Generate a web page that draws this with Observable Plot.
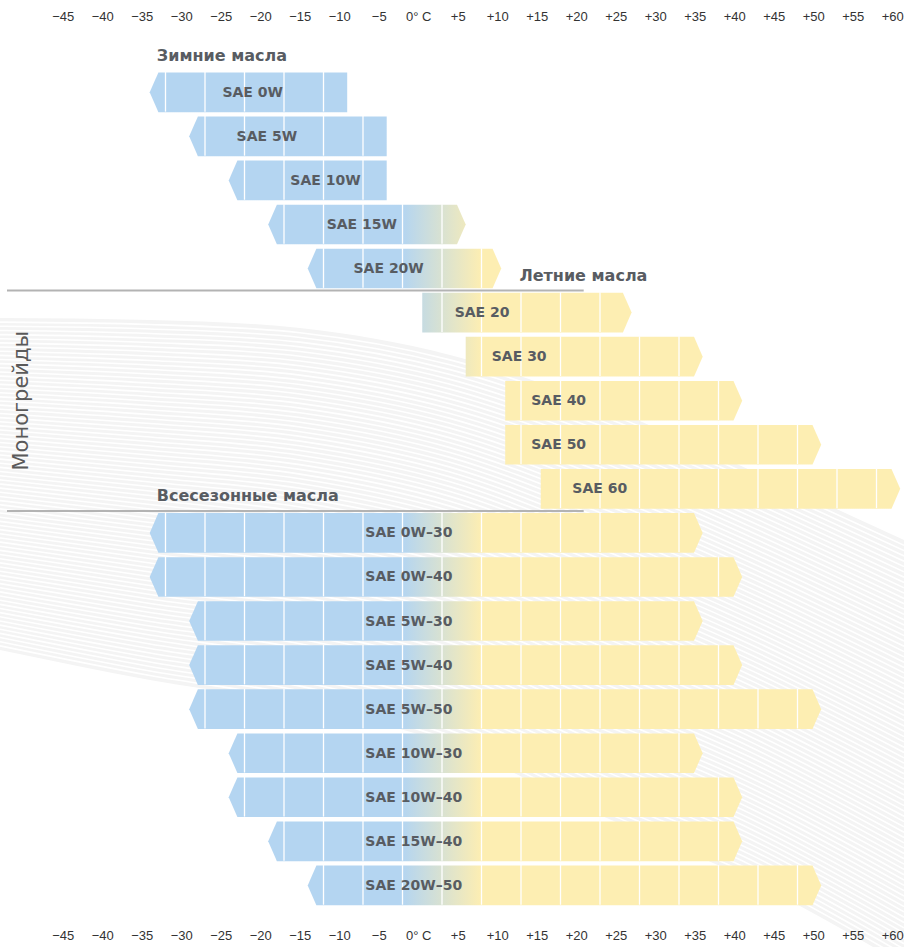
<!DOCTYPE html>
<html><head><meta charset="utf-8">
<script src="https://cdn.jsdelivr.net/npm/d3@7"></script>
<script src="https://cdn.jsdelivr.net/npm/@observablehq/plot@0.6"></script>
<style>html,body{margin:0;padding:0;background:#fff;} #chart svg{display:block}</style>
</head><body><div id="chart"></div>
<script>
// ---------- data ----------
const grades = ["SAE 0W","SAE 5W","SAE 10W","SAE 15W","SAE 20W",
  "SAE 20","SAE 30","SAE 40","SAE 50","SAE 60",
  "SAE 0W–30","SAE 0W–40","SAE 5W–30","SAE 5W–40","SAE 5W–50","SAE 10W–30","SAE 10W–40","SAE 15W–40","SAE 20W–50"];
const groups = ["winter","winter","winter","winter","winter",
  "summer","summer","summer","summer","summer",
  "all","all","all","all","all","all","all","all","all"];
const minTemp = [-35,-30,-25,-20,-15, -0.5,5,10,10,14.5, -35,-35,-30,-30,-30,-25,-25,-20,-15];
const maxTemp = [-10,-5,-5,5,9.5, 26,35,40,50,60, 35,40,35,40,50,35,40,40,50];
const openLow  = [true,true,true,true,true, false,false,false,false,false, true,true,true,true,true,true,true,true,true];
const openHigh = [false,false,false,true,true, true,true,true,true,true, true,true,true,true,true,true,true,true,true];
const tickValues = [-45,-40,-35,-30,-25,-20,-15,-10,-5,0,5,10,15,20,25,30,35,40,45,50,55,60];
const tickLabels = ["−45","−40","−35","−30","−25","−20","−15","−10","−5","0° C","+5","+10","+15","+20","+25","+30","+35","+40","+45","+50","+55","+60"];
const cellEdges = [-33,-28,-23,-18,-13,-8,-3,2,7,12,17,22,27,32,37,42,47,52,57];
const sectionTitles = ["Зимние масла","Летние масла","Всесезонные масла"];
const sideTitle = "Моногрейды";

// ---------- layout ----------
const labelX = [-25.8,-24,-17.2,-12.6,-9.2, 3.6,8.3,13.3,13.3,18.5, -7.7,-7.7,-7.7,-7.7,-7.7,-7.7,-7.7,-7.7,-7.7];
const sectionX = [-34.1, 11.8, -34.1];
const ARROW = 1.1, HALF = 0.45;
const BLUE = "#b4d5f1", YELLOW = "#fdeeb2", INK = "#585c62";
// decorative background swoosh (pixel space)
const swX   = [0, 150, 300, 450, 600, 750, 904];
const swTop = [318, 320, 328, 355, 405, 470, 540];
const swBot = [650, 680, 705, 745, 815, 880, 965];

const bars = grades.map((name, i) => ({name, row: i, group: groups[i], lo: minTemp[i], hi: maxTemp[i],
  openLow: openLow[i], openHigh: openHigh[i], labelX: labelX[i]}));

const outline = bars.flatMap(b => {
  const l = b.openLow ? b.lo + ARROW : b.lo;
  const r = b.openHigh ? b.hi - ARROW : b.hi;
  const p = [[l, b.row - HALF], [r, b.row - HALF]];
  if (b.openHigh) p.push([b.hi, b.row]);
  p.push([r, b.row + HALF], [l, b.row + HALF]);
  if (b.openLow) p.push([b.lo, b.row]);
  p.push([l, b.row - HALF]);
  return p.map(([x, y]) => ({id: b.name, x, y}));
});

const cellLines = bars.flatMap(b => {
  const l = b.openLow ? b.lo + ARROW : b.lo;
  const r = b.openHigh ? b.hi - ARROW : b.hi;
  return cellEdges.filter(e => e > l + 0.3 && e < r - 0.3)
    .map(e => ({x: e, y1: b.row - HALF, y2: b.row + HALF}));
});

const groupNames = [...new Set(groups)];
const firstRow = groupNames.map(g => groups.indexOf(g));
const sections = groupNames.map((g, k) => ({title: sectionTitles[k], x: sectionX[k], y: firstRow[k] - 0.5 - 0.33}));
const separators = firstRow.slice(1).map(r => ({y: r - 0.5, x1: -53, x2: 20}));
const summerRows = bars.filter(b => b.group === "summer").map(b => b.row);
const side = [{text: sideTitle, x: -51.3, y: d3.mean(summerRows)}];
const tickText = new Map(tickValues.map((v, i) => [v, tickLabels[i]]));

const chart = Plot.plot({
  width: 904, height: 947,
  marginLeft: 70.2, marginRight: 4.3, marginTop: 91.8, marginBottom: 62.1,
  x: {domain: [-45, 60]},
  y: {domain: [0, grades.length - 1], reverse: true, axis: null},
  style: {fontFamily: "'Liberation Sans', Arial, sans-serif", fontSize: "13px", color: "#333", background: "white", overflow: "visible"},
  marks: [
    Plot.line(outline, {x: "x", y: "y", z: "id", fill: "url(#sae-grad)", stroke: "none", curve: "linear"}),
    Plot.ruleX(cellLines, {x: "x", y1: "y1", y2: "y2", stroke: "white", strokeWidth: 1.3}),
    Plot.ruleY(separators, {y: "y", x1: "x1", x2: "x2", stroke: "#b3b3b3", strokeWidth: 2}),
    Plot.text(bars, {x: "labelX", y: "row", text: "name", textAnchor: "start", fontFamily: "DejaVu Sans", fontWeight: "bold", fontSize: 14, fill: INK}),
    Plot.text(sections, {x: "x", y: "y", text: "title", textAnchor: "start", fontFamily: "DejaVu Sans", fontWeight: "bold", fontSize: 16, fill: INK}),
    Plot.text(side, {x: "x", y: "y", text: "text", rotate: -90, fontFamily: "DejaVu Sans", fontSize: 21, fill: "#5a5a5a"}),
    Plot.axisX({anchor: "top", ticks: tickValues, tickSize: 0, tickPadding: 71.8, tickFormat: d => tickText.get(d), dx: -7.5, label: null, fill: "#333"}),
    Plot.axisX({anchor: "bottom", ticks: tickValues, tickSize: 0, tickPadding: 45.5, tickFormat: d => tickText.get(d), dx: -7.5, label: null, fill: "#333"})
  ]
});

const svg = d3.select(chart);
const xs = chart.scale("x");
const grad = svg.insert("defs", ":first-child").append("linearGradient")
  .attr("id", "sae-grad").attr("gradientUnits", "userSpaceOnUse")
  .attr("x1", xs.apply(-3)).attr("x2", xs.apply(7)).attr("y1", 0).attr("y2", 0);
grad.append("stop").attr("offset", 0).attr("stop-color", BLUE);
grad.append("stop").attr("offset", 1).attr("stop-color", YELLOW);

// faint decorative swoosh behind the bars
const deco = svg.insert("g", "g").attr("aria-hidden", "true");
const idx = swX.map((_, i) => i);
deco.append("path")
  .attr("d", d3.area().x(i => swX[i]).y0(i => swTop[i]).y1(i => swBot[i]).curve(d3.curveMonotoneX)(idx))
  .attr("fill", "#f4f4f4");
const N = 80;
const lineGen = d3.line().curve(d3.curveMonotoneX);
for (let k = 1; k < N; k++) {
  const t = k / N;
  deco.append("path")
    .attr("d", lineGen(idx.map(i => [swX[i], swTop[i] + t * (swBot[i] - swTop[i])])))
    .attr("fill", "none").attr("stroke", "white").attr("stroke-width", 1.6);
}

document.getElementById("chart").appendChild(chart);
</script>
</body></html>
